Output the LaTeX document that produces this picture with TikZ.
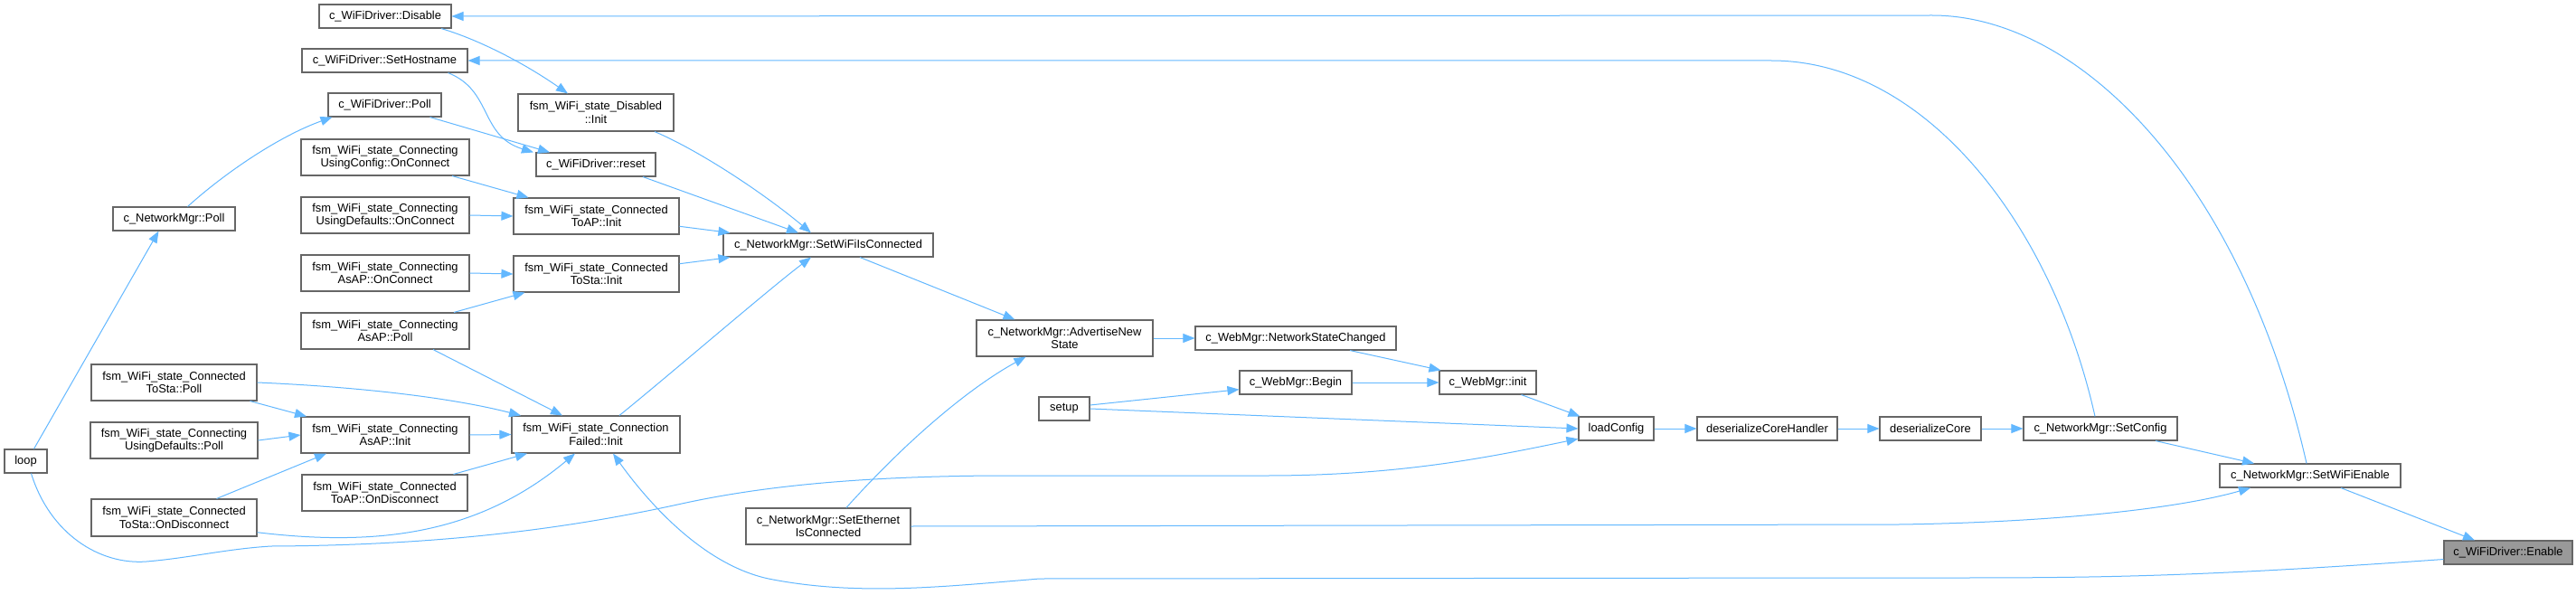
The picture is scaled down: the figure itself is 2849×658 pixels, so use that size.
\documentclass[tikz,border=0pt]{standalone}
\usepackage{fontspec}
\setmainfont{Liberation Sans}
\usetikzlibrary{arrows.meta}
\definecolor{edgeblue}{HTML}{63B8FF}
\definecolor{nodeborder}{HTML}{666666}
\definecolor{rootfill}{HTML}{999999}
\begin{document}
\begin{tikzpicture}[x=1pt,y=-1pt,
  fnode/.style={draw=nodeborder, line width=1.1pt, fill=white, inner sep=0pt, align=center,
     font=\fontsize{12.9}{14.3}\selectfont, text=black},
  edg/.style={draw=edgeblue, line width=1pt, -{Triangle[length=13pt,width=10pt]}}]
\fill[white] (0,0) rectangle (2849,658);
\useasboundingbox (0,0) rectangle (2849,658);
% nodes
\node[fnode, minimum width=146pt, minimum height=26pt] (disable) at (426,18) {c\_WiFiDriver::Disable};
\node[fnode, minimum width=183pt, minimum height=26pt] (sethost) at (425.5,67) {c\_WiFiDriver::SetHostname};
\node[fnode, minimum width=125pt, minimum height=26pt] (wpoll) at (425.5,116) {c\_WiFiDriver::Poll};
\node[fnode, minimum width=186pt, minimum height=40pt] (ucconn) at (426,174) {fsm\_WiFi\_state\_Connecting\\UsingConfig::OnConnect};
\node[fnode, minimum width=186pt, minimum height=40pt] (udconn) at (426,238) {fsm\_WiFi\_state\_Connecting\\UsingDefaults::OnConnect};
\node[fnode, minimum width=186pt, minimum height=40pt] (apconn) at (426,302) {fsm\_WiFi\_state\_Connecting\\AsAP::OnConnect};
\node[fnode, minimum width=186pt, minimum height=40pt] (appoll) at (426,366) {fsm\_WiFi\_state\_Connecting\\AsAP::Poll};
\node[fnode, minimum width=186pt, minimum height=40pt] (apinit) at (426,481) {fsm\_WiFi\_state\_Connecting\\AsAP::Init};
\node[fnode, minimum width=183pt, minimum height=40pt] (apdisc) at (425.5,545) {fsm\_WiFi\_state\_Connected\\ToAP::OnDisconnect};
\node[fnode, minimum width=135pt, minimum height=26pt] (nmpoll) at (192.5,242) {c\_NetworkMgr::Poll};
\node[fnode, minimum width=183pt, minimum height=40pt] (stapoll) at (192.5,423) {fsm\_WiFi\_state\_Connected\\ToSta::Poll};
\node[fnode, minimum width=185pt, minimum height=40pt] (udpoll) at (192.5,487) {fsm\_WiFi\_state\_Connecting\\UsingDefaults::Poll};
\node[fnode, minimum width=183pt, minimum height=41pt] (stadisc) at (192.5,572.5) {fsm\_WiFi\_state\_Connected\\ToSta::OnDisconnect};
\node[fnode, minimum width=47pt, minimum height=26pt] (loop) at (28.5,510) {loop};
\node[fnode, minimum width=172pt, minimum height=41pt] (disinit) at (659,124.5) {fsm\_WiFi\_state\_Disabled\\::Init};
\node[fnode, minimum width=132pt, minimum height=26pt] (reset) at (659,182) {c\_WiFiDriver::reset};
\node[fnode, minimum width=183pt, minimum height=40pt] (apcinit) at (659.5,239) {fsm\_WiFi\_state\_Connected\\ToAP::Init};
\node[fnode, minimum width=183pt, minimum height=40pt] (stainit) at (659.5,303) {fsm\_WiFi\_state\_Connected\\ToSta::Init};
\node[fnode, minimum width=186pt, minimum height=41pt] (cfinit) at (659,480.5) {fsm\_WiFi\_state\_Connection\\Failed::Init};
\node[fnode, minimum width=232pt, minimum height=26pt] (swic) at (916,271) {c\_NetworkMgr::SetWiFiIsConnected};
\node[fnode, minimum width=182pt, minimum height=40pt] (ethernet) at (916,582) {c\_NetworkMgr::SetEthernet\\IsConnected};
\node[fnode, minimum width=195pt, minimum height=40pt] (advert) at (1177.5,374) {c\_NetworkMgr::AdvertiseNew\\State};
\node[fnode, minimum width=56pt, minimum height=26pt] (setup) at (1177,452) {setup};
\node[fnode, minimum width=222pt, minimum height=26pt] (nsc) at (1433,374) {c\_WebMgr::NetworkStateChanged};
\node[fnode, minimum width=124pt, minimum height=26pt] (begin) at (1433,423) {c\_WebMgr::Begin};
\node[fnode, minimum width=107pt, minimum height=26pt] (init) at (1645.5,423) {c\_WebMgr::init};
\node[fnode, minimum width=83pt, minimum height=26pt] (loadcfg) at (1787.5,474) {loadConfig};
\node[fnode, minimum width=155pt, minimum height=26pt] (dch) at (1954.5,474) {deserializeCoreHandler};
\node[fnode, minimum width=112pt, minimum height=26pt] (dcore) at (2135,474) {deserializeCore};
\node[fnode, minimum width=170pt, minimum height=26pt] (setcfg) at (2323,474) {c\_NetworkMgr::SetConfig};
\node[fnode, minimum width=200pt, minimum height=26pt] (swe) at (2555,526) {c\_NetworkMgr::SetWiFiEnable};
\node[fnode, fill=rootfill, minimum width=142pt, minimum height=26pt] (enable) at (2774,611) {c\_WiFiDriver::Enable};
% edges
\draw[edg] ([xshift=-4pt]swe.north) .. controls (2480,200) and (2300,17) .. (2137,17) -- (disable.east);
\draw[edg] ([xshift=-6pt]setcfg.north) .. controls (2270,250) and (2130,67) .. (1959,67) -- (sethost.east);
\draw[edg] ([xshift=62pt]disable.south) .. controls (530,44) and (580,70) .. ([xshift=-31pt]disinit.north);
\draw[edg] ([xshift=70pt]sethost.south) .. controls (545,100) and (530,150) .. ([xshift=-69pt]reset.north);
\draw[edg] ([xshift=50pt]wpoll.south) -- ([xshift=-51pt]reset.north);
\draw[edg] ([xshift=15pt]nmpoll.north) .. controls (250,190) and (310,150) .. ([xshift=-58pt]wpoll.south);
\draw[edg] ([xshift=9pt]loop.north) -- ([xshift=-17pt]nmpoll.south);
\draw[edg] ([xshift=74pt]ucconn.south) -- ([xshift=-75pt]apcinit.north);
\draw[edg] (udconn.east) -- (apcinit.west);
\draw[edg] (apconn.east) -- (stainit.west);
\draw[edg] ([xshift=76pt]appoll.north) -- ([xshift=-79pt]stainit.south);
\draw[edg] ([xshift=53pt]appoll.south) -- ([xshift=-37pt]cfinit.north);
\draw[edg] (stapoll.east) .. controls (400,428) and (500,440) .. ([xshift=-83pt]cfinit.north);
\draw[edg] (apinit.east) -- (cfinit.west);
\draw[edg] ([xshift=76pt]apdisc.north) -- ([xshift=-76pt]cfinit.south);
\draw[edg] (stadisc.-10) .. controls (420,605) and (530,590) .. ([xshift=-23pt]cfinit.south);
\draw[edg] (enable.-174) .. controls (2400,640) and (2300,639) .. (2100,639) -- (1150,640)
   .. controls (1050,648) and (950,660) .. (850,640) .. controls (780,625) and (720,560) .. ([xshift=19pt]cfinit.south);
\draw[edg] ([xshift=84pt]stapoll.south) -- ([xshift=-87pt]apinit.north);
\draw[edg] (udpoll.east) -- (apinit.west);
\draw[edg] ([xshift=47pt]stadisc.north) -- ([xshift=-65pt]apinit.south);
\draw[edg] ([xshift=65pt]disinit.south) .. controls (770,165) and (840,210) .. ([xshift=-19pt]swic.north);
\draw[edg] ([xshift=52pt]reset.south) -- ([xshift=-33pt]swic.north);
\draw[edg] (apcinit.-7) -- ([xshift=8pt]swic.north west);
\draw[edg] (stainit.7) -- ([xshift=8pt]swic.south west);
\draw[edg] ([xshift=26pt]cfinit.north) .. controls (740,415) and (850,320) .. ([xshift=-19pt]swic.south);
\draw[edg] ([xshift=35pt]swic.south) -- ([xshift=-55pt]advert.north);
\draw[edg] ([xshift=20pt]ethernet.north) .. controls (1000,490) and (1070,430) .. ([xshift=-43pt]advert.south);
\draw[edg] (advert.east) -- (nsc.west);
\draw[edg] ([xshift=60pt]nsc.south) -- ([xshift=2pt]init.north west);
\draw[edg] (begin.east) -- (init.west);
\draw[edg] (setup.8) -- (begin.-173);
\draw[edg] (setup.east) -- (loadcfg.west);
\draw[edg] ([xshift=37pt]init.south) -- ([xshift=2pt]loadcfg.north west);
\draw[edg] ([xshift=6pt]loop.south) .. controls (55,590) and (110,625) .. (162,621)
   .. controls (210,617) and (250,607) .. (300,604)
   .. controls (500,603) and (640,582) .. (754,557)
   .. controls (850,536) and (960,527) .. (1100,526) -- (1400,526)
   .. controls (1550,526) and (1650,505) .. (loadcfg.-165);
\draw[edg] (loadcfg.east) -- (dch.west);
\draw[edg] (dch.east) -- (dcore.west);
\draw[edg] (dcore.east) -- (setcfg.west);
\draw[edg] ([xshift=61pt]setcfg.south) -- ([xshift=-62pt]swe.north);
\draw[edg] (ethernet.east) -- (2100,580) .. controls (2250,578) and (2400,565) .. ([xshift=-66pt]swe.south);
\draw[edg] ([xshift=34pt]swe.south) -- ([xshift=-37pt]enable.north);
\end{tikzpicture}
\end{document}
